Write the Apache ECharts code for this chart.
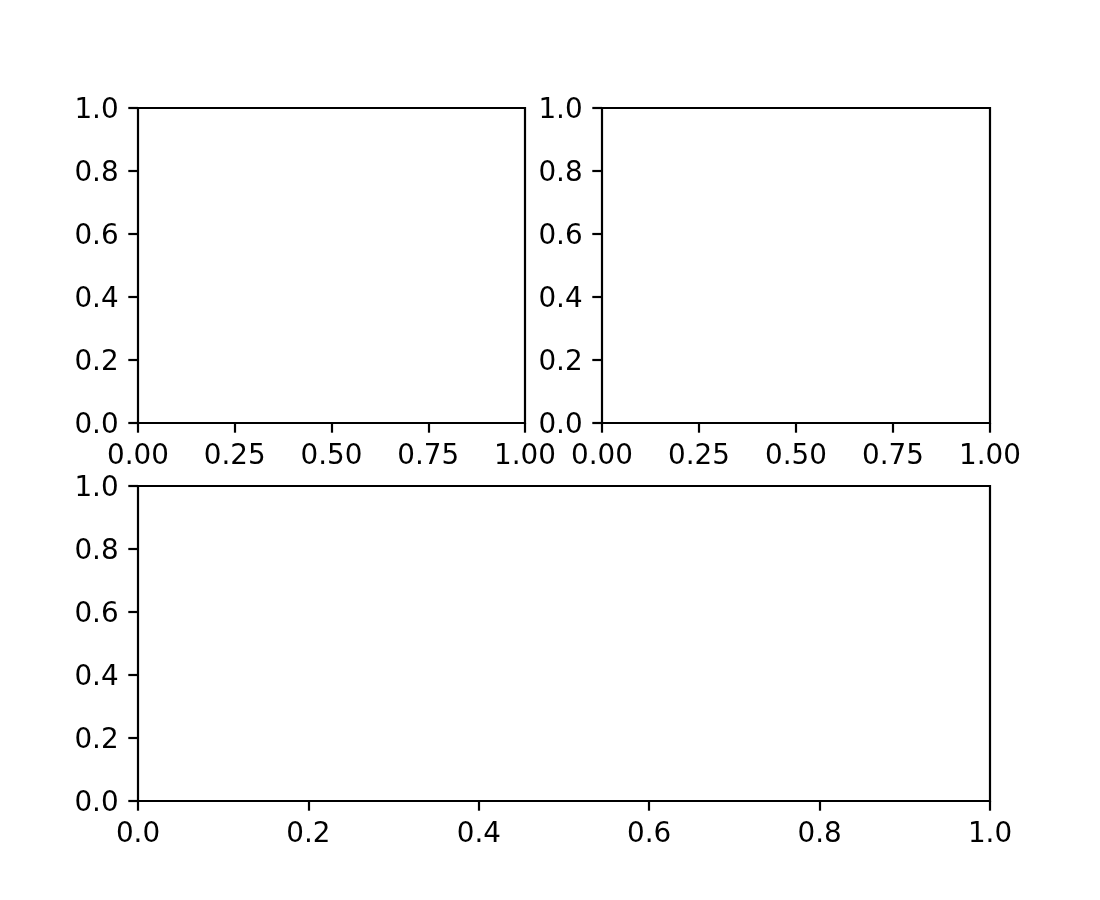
<!DOCTYPE html>
<html>
<head>
<meta charset="utf-8">
<script src="https://cdn.jsdelivr.net/npm/echarts@6/dist/echarts.min.js"></script>
<style>
html,body{margin:0;padding:0;background:#fff;}
#chart{width:1100px;height:900px;}
</style>
</head>
<body>
<div id="chart"></div>
<script>
// Tick values for each axes
const topXTicks = [0, 0.25, 0.5, 0.75, 1.0];
const bottomXTicks = [0, 0.2, 0.4, 0.6, 0.8, 1.0];
const yTicks = [0, 0.2, 0.4, 0.6, 0.8, 1.0];
const topXDecimals = 2;
const bottomXDecimals = 1;
const yDecimals = 1;

const FONT = 'DejaVu Sans';
const FS = 27.8;
const LW = 2.2;
const TICK = 9.7;
const MARGIN = 19.4;

const grids = [
  {left: 138, top: 108, width: 387, height: 315},
  {left: 602, top: 108, width: 388, height: 315},
  {left: 138, top: 486, width: 852, height: 315}
];
const xTickSets = [topXTicks, topXTicks, bottomXTicks];
const xDec = [topXDecimals, topXDecimals, bottomXDecimals];

function makeAxis(ticks, dec, idx, isX) {
  const interval = ticks[1] - ticks[0];
  const labelStyle = {fontFamily: FONT, fontSize: FS, color: '#000'};
  return {
    type: 'value',
    gridIndex: idx,
    min: ticks[0],
    max: ticks[ticks.length - 1],
    interval: interval,
    position: isX ? 'bottom' : 'left',
    splitLine: {show: false},
    axisLine: {show: false, onZero: false, lineStyle: {color: '#000', width: LW}},
    axisTick: {show: true, inside: false, length: TICK, lineStyle: {color: '#000', width: LW}},
    axisLabel: {
      show: true,
      showMinLabel: true,
      showMaxLabel: true,
      margin: MARGIN,
      color: '#000',
      fontFamily: FONT,
      fontSize: FS,
      formatter: v => '{t|' + Number(v).toFixed(dec) + '}',
      rich: {
        t: Object.assign({padding: isX ? [0, 0, 0, 0] : [6, 0, 0, 0]}, labelStyle)
      }
    }
  };
}

const option = {
  backgroundColor: '#fff',
  animation: false,
  grid: grids.map(g => Object.assign({show: true, borderColor: '#000', borderWidth: LW, backgroundColor: 'transparent', containLabel: false}, g)),
  xAxis: grids.map((g, i) => makeAxis(xTickSets[i], xDec[i], i, true)),
  yAxis: grids.map((g, i) => makeAxis(yTicks, yDecimals, i, false)),
  series: grids.map((g, i) => ({type: 'line', xAxisIndex: i, yAxisIndex: i, data: []}))
};

const chart = echarts.init(document.getElementById('chart'), null, {renderer: 'canvas'});
chart.setOption(option);
</script>
</body>
</html>
